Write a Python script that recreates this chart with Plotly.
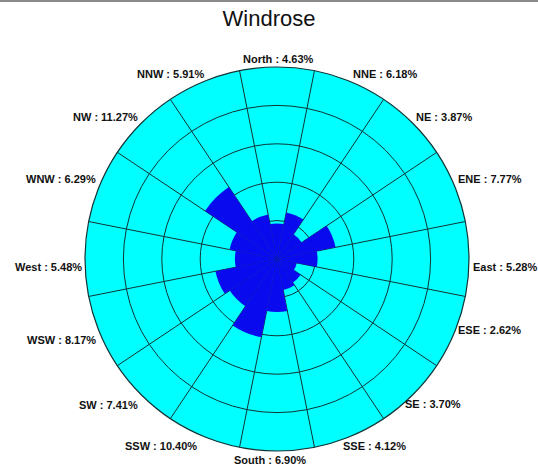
import math
import plotly.graph_objects as go

# Wind direction sectors (clockwise from North) and their frequency in percent
directions = ["North", "NNE", "NE", "ENE", "East", "ESE", "SE", "SSE",
              "South", "SSW", "SW", "WSW", "West", "WNW", "NW", "NNW"]
frequency = [4.63, 6.18, 3.87, 7.77, 5.28, 2.62, 3.70, 4.12,
             6.90, 10.40, 7.41, 8.17, 5.48, 6.29, 11.27, 5.91]

# Radial scale: rings every 5 %, outer edge at 25 %
ring_values = [5, 10, 15, 20]
r_max = 25

sector = 360 / len(directions)
angles = [i * sector for i in range(len(directions))]
labels = [f"{d} : {v:.2f}%" for d, v in zip(directions, frequency)]

W, H = 538, 469
ML, MR, MT, MB = 85, 69, 67, 18
grid_col = "#123434"
font_family = "Liberation Sans, Arial, sans-serif"

# Label placement around the rim: horizontal nudge and vertical nudge (px, down positive)
label_dx = [1, 1.5, 2, 3, 3, 3, -9, -8, -7, -6, -2, -3, -2, -3, -2, 1.5]
label_dy = [-8, -7.5, -6, -6.5, 8, -2.5, 9, 10, 9, 10, 10, 7.5, 8, -6.5, -6, -7.5]

fig = go.Figure()

fig.add_trace(go.Barpolar(
    r=frequency,
    theta=angles,
    width=[sector] * len(angles),
    marker=dict(color="#0a0aee", line=dict(width=0)),
    hoverinfo="text",
    hovertext=labels,
    showlegend=False,
))

# Rim labels, anchored to the outer circle of the polar subplot
annotations = []
for ang, txt, dx, dy in zip(angles, labels, label_dx, label_dy):
    s, c = math.sin(math.radians(ang)), math.cos(math.radians(ang))
    if s > 0.1:
        xanchor = "left"
    elif s < -0.1:
        xanchor = "right"
    else:
        xanchor = "center"
    annotations.append(dict(
        xref="paper", yref="paper",
        x=0.5 + 0.5 * s, y=0.5 + 0.5 * c,
        xanchor=xanchor, yanchor="middle",
        xshift=dx, yshift=-dy,
        text=txt, showarrow=False, borderpad=0,
        font=dict(family=font_family, size=11, color="#111111", weight="bold"),
    ))

fig.update_layout(
    width=W, height=H,
    margin=dict(l=ML, r=MR, t=MT, b=MB),
    paper_bgcolor="white",
    plot_bgcolor="white",
    title=dict(text="Windrose", x=0.5, xanchor="center",
               y=1 - 18 / H, yanchor="middle",
               font=dict(family=font_family, size=22, color="#111111")),
    polar=dict(
        bgcolor="#00ffff",
        domain=dict(x=[0, 1], y=[0, 1]),
        radialaxis=dict(
            range=[0, r_max],
            tickvals=ring_values,
            showticklabels=False,
            ticks="",
            showline=False,
            gridcolor=grid_col,
            gridwidth=1.2,
            layer="above traces",
        ),
        angularaxis=dict(
            direction="clockwise",
            rotation=90,
            tickvals=[a + sector / 2 for a in angles],
            showticklabels=False,
            ticks="",
            showline=True,
            linecolor=grid_col,
            linewidth=1.2,
            gridcolor=grid_col,
            gridwidth=1.2,
            layer="above traces",
        ),
    ),
    annotations=annotations,
    shapes=[dict(
        type="line", xref="paper", yref="paper",
        x0=-ML / (W - ML - MR), x1=(W - ML) / (W - ML - MR),
        y0=1 + (MT - 1) / (H - MT - MB), y1=1 + (MT - 1) / (H - MT - MB),
        line=dict(color="#8a8a8a", width=2),
    )],
)

fig.write_html("out.html")
